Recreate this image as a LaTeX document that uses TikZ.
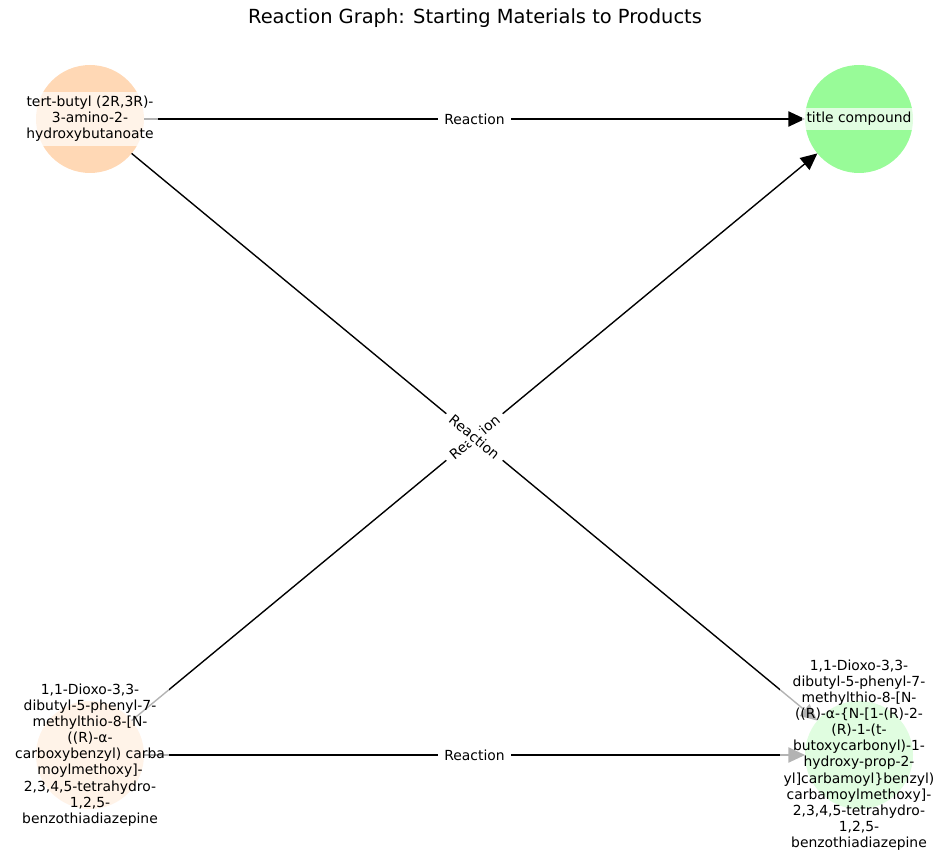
\documentclass[tikz,border=0pt]{standalone}
\usepackage{fontspec}
\setmainfont{DejaVu Sans}
\usetikzlibrary{arrows.meta}
\definecolor{peach}{HTML}{FFD8B5}
\definecolor{mint}{HTML}{98FB98}
\tikzset{
  mol/.style={circle, minimum size=77.76pt, inner sep=0pt, outer sep=0pt},
  molname/.style={align=center, fill=white, fill opacity=0.7, text opacity=1, inner sep=3pt, font=\fontsize{10}{11.6}\selectfont},
  rxn/.style={line width=1pt, -{Triangle[length=12pt,width=11pt]}},
  rxnlabel/.style={fill=white, inner xsep=4.5pt, inner ysep=2pt, font=\fontsize{10}{12}\selectfont}
}

\begin{document}
\begin{tikzpicture}[x=0.72pt,y=-0.72pt]
\useasboundingbox (0,0) rectangle (950,862);
\node[font=\fontsize{14}{17}\selectfont] (heading) at (475,18) {Reaction Graph: Starting Materials to Products};
% molecules
\node[mol, fill=peach] (amine) at (90,119) {};
\node[mol, fill=peach] (acid) at (90,755) {};
\node[mol, fill=mint] (target) at (859,119) {};
\node[mol, fill=mint] (amide) at (859,755) {};
% reactions
\draw[rxn] (amine) -- node[rxnlabel] {Reaction} (target);
\draw[rxn] (acid) -- node[rxnlabel, sloped] {Reaction} (target);
\draw[rxn] (amine) -- node[rxnlabel, sloped] {Reaction} (amide);
\draw[rxn] (acid) -- node[rxnlabel] {Reaction} (amide);
% names
\node[molname] (aminename) at (amine) {tert-butyl (2R,3R)-\\3-amino-2-\\hydroxybutanoate};
\node[molname] (acidname) at (acid) {1,1-Dioxo-3,3-\\dibutyl-5-phenyl-7-\\methylthio-8-[N-\\((R)-α-\\carboxybenzyl) carba\\moylmethoxy]-\\2,3,4,5-tetrahydro-\\1,2,5-\\benzothiadiazepine};
\node[molname] (targetname) at (target) {title compound};
\node[molname] (amidename) at (amide) {1,1-Dioxo-3,3-\\dibutyl-5-phenyl-7-\\methylthio-8-[N-\\((R)-α-\{N-[1-(R)-2-\\(R)-1-(t-\\butoxycarbonyl)-1-\\hydroxy-prop-2-\\yl]carbamoyl\}benzyl)\\carbamoylmethoxy]-\\2,3,4,5-tetrahydro-\\1,2,5-\\benzothiadiazepine};
\end{tikzpicture}
\end{document}
